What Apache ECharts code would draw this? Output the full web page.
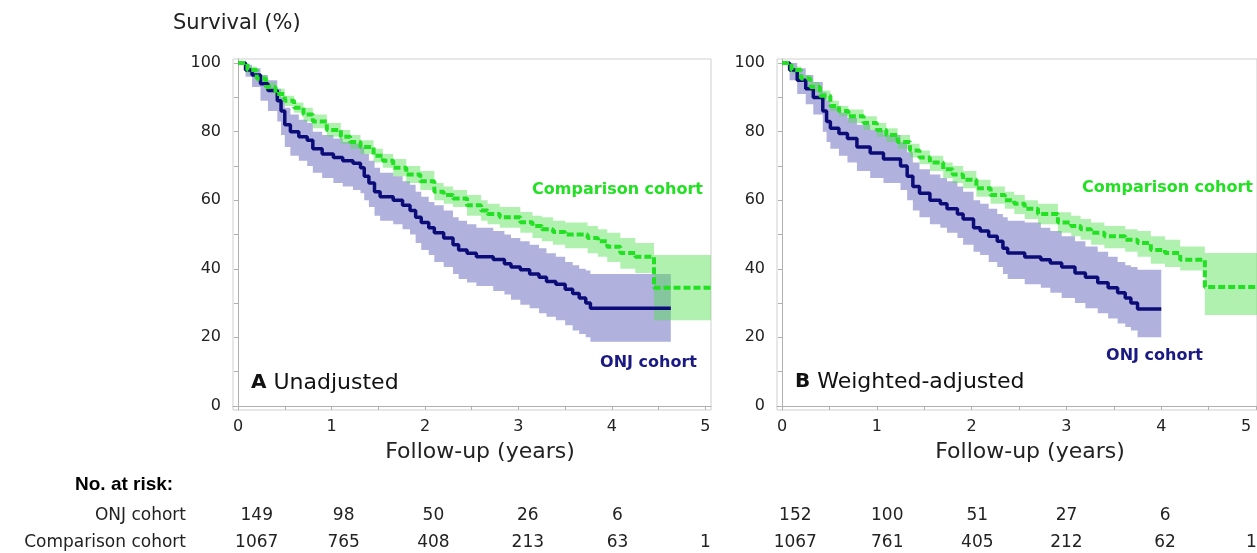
<!DOCTYPE html>
<html>
<head>
<meta charset="utf-8">
<script src="https://cdn.jsdelivr.net/npm/echarts@6/dist/echarts.min.js"></script>
<style>
  html, body { margin: 0; padding: 0; background: #fff; }
  #main { width: 1257px; height: 553px; }
</style>
</head>
<body>
<div id="main"></div>
<script>
// Panel A - unadjusted, ONJ cohort (Kaplan-Meier + 95% CI)
var tA_onj  = [0, 0.08, 0.15, 0.24, 0.32, 0.42, 0.46, 0.5, 0.56, 0.65, 0.74, 0.8, 0.9, 1.02, 1.12, 1.23, 1.31, 1.35, 1.4, 1.46, 1.52, 1.66, 1.76, 1.84, 1.9, 1.96, 2.04, 2.1, 2.2, 2.3, 2.36, 2.45, 2.55, 2.73, 2.85, 2.92, 3.02, 3.12, 3.22, 3.3, 3.4, 3.5, 3.58, 3.65, 3.72, 3.77, 4.63];
var sA_onj  = [100, 98, 96.5, 94, 92, 89, 86, 82, 80, 78.5, 77.5, 75, 73.5, 72.5, 71.5, 70.8, 69.5, 67, 65, 62.5, 61, 60, 58.5, 57, 55, 53.5, 52, 50.5, 49, 47, 45.5, 44.5, 43.5, 42.7, 41.5, 40.5, 39.7, 38.5, 37.5, 36.3, 35.5, 34, 32.8, 31.5, 30, 28.5, 28.5];
var loA_onj = [100, 96, 93, 89, 86, 83, 79, 75.5, 73, 71.5, 70, 68, 66.5, 65, 64, 63, 62, 60, 58, 55.5, 54, 53, 51.5, 50, 47.5, 45.5, 44, 42, 40.5, 38.5, 37, 36, 35, 33.5, 32.5, 31, 29.5, 28.5, 27, 26, 25, 23.5, 22, 21, 20, 18.7, 18.7];
var hiA_onj = [100, 99.5, 98.5, 96.5, 95, 92.5, 90, 87, 85, 83.5, 82.5, 80, 79, 78, 77, 76.5, 75.5, 73.5, 71.5, 69.5, 68, 67, 65.5, 64.5, 62.5, 61, 59.5, 58.5, 57, 55, 54, 53, 52, 51, 50, 49, 48, 47, 46, 44.5, 43.5, 42, 41, 40, 39.5, 38.5, 38.5];

// Panel A - unadjusted, comparison cohort
var tA_cmp  = [0, 0.1, 0.2, 0.3, 0.4, 0.5, 0.6, 0.7, 0.8, 0.95, 1.1, 1.2, 1.31, 1.45, 1.55, 1.66, 1.8, 1.95, 2.1, 2.2, 2.3, 2.45, 2.6, 2.67, 2.8, 3.02, 3.15, 3.25, 3.37, 3.5, 3.74, 3.85, 3.95, 4.09, 4.25, 4.45, 5.06];
var sA_cmp  = [100, 98, 95.5, 93, 91, 89, 87, 85, 83, 80.5, 78.5, 77, 75.5, 73, 71.5, 69.5, 67.5, 65.5, 62.5, 61.5, 60.5, 58.5, 57, 56, 55, 53.6, 52.5, 51.5, 50.7, 50, 49, 48, 46.4, 44.6, 43.5, 34.5, 34.5];
var loA_cmp = [100, 97, 94.5, 91.5, 89.5, 87.5, 85.5, 83, 81, 78.5, 76.5, 75, 73.5, 71, 69.5, 67, 65, 63, 60, 59, 58, 55.5, 54, 53, 52, 50.5, 49, 48, 47, 46, 44.5, 43.5, 42, 40, 38.8, 25, 25];
var hiA_cmp = [100, 99, 96.5, 94.5, 92.5, 90.5, 88.5, 87, 85, 82.5, 80.5, 79, 77.5, 75, 73.5, 72, 70, 68.5, 65, 64, 63, 61.5, 60, 59, 58, 56.6, 55.5, 55, 54, 53.5, 52.5, 51.5, 50.5, 49, 47.5, 44, 44];

// Panel B - weighted-adjusted, ONJ cohort
var tB_onj  = [0, 0.08, 0.16, 0.25, 0.33, 0.43, 0.47, 0.51, 0.6, 0.69, 0.79, 0.93, 1.07, 1.25, 1.32, 1.38, 1.45, 1.56, 1.67, 1.74, 1.85, 1.91, 2.02, 2.09, 2.18, 2.27, 2.33, 2.38, 2.56, 2.73, 2.83, 2.95, 3.09, 3.2, 3.33, 3.44, 3.54, 3.62, 3.68, 3.75, 4.0];
var sB_onj  = [100, 98, 95, 92.5, 90, 86, 83, 81, 79.5, 78, 75.5, 73.8, 72, 70, 67, 64, 62, 60, 59, 57.5, 56, 54.5, 52, 51, 49.5, 48, 46, 44.6, 43.4, 42.6, 41.7, 40.5, 38.8, 37.5, 35.9, 34.5, 33, 31.5, 30, 28.3, 28.3];
var loB_onj = [100, 95, 91, 88, 85, 80, 77, 75, 73, 71, 68.5, 66.5, 65, 63, 60, 57, 55, 53, 52, 50.5, 49, 47, 45, 44, 42, 40.5, 38.5, 37, 35.5, 34.5, 33, 31.5, 30, 28.5, 27, 25.5, 24, 23, 22, 20, 20];
var hiB_onj = [100, 100, 98.5, 96.5, 94.5, 91.5, 89, 87, 85.5, 84, 82, 80.5, 79, 77, 74, 71, 69, 67.5, 66.5, 65.5, 64, 62.5, 60, 59, 57.5, 56, 55, 54, 53.5, 52, 51, 49.5, 48, 46.5, 45, 43.5, 42, 41, 40.5, 39.7, 39.7];

// Panel B - weighted-adjusted, comparison cohort
var tB_cmp  = [0, 0.1, 0.2, 0.3, 0.4, 0.51, 0.6, 0.7, 0.86, 1.0, 1.1, 1.22, 1.35, 1.45, 1.56, 1.7, 1.8, 1.91, 2.05, 2.2, 2.35, 2.45, 2.56, 2.7, 2.91, 3.05, 3.15, 3.26, 3.4, 3.62, 3.75, 3.89, 4.04, 4.2, 4.46, 5.06];
var sB_cmp  = [100, 98, 95.5, 93, 90.5, 87.5, 86, 84.5, 82.5, 80.5, 79, 77, 74.5, 72.5, 71, 69, 67.5, 66, 63.5, 61.5, 60, 59, 57.5, 56, 53.5, 52.5, 51.5, 50.5, 49.5, 48.5, 47.5, 45.5, 44.6, 42.6, 34.7, 34.7];
var loB_cmp = [100, 97, 94.5, 91.5, 89, 86, 84.5, 82.5, 80.5, 78.5, 77, 75, 72.5, 70.5, 68.5, 66.5, 65, 63.5, 61, 59, 57.5, 56, 54.5, 53, 50.5, 49.5, 48.5, 47, 46, 45, 43.5, 41.5, 40.5, 39.5, 26.5, 26.5];
var hiB_cmp = [100, 99, 96.5, 94.5, 92, 89, 87.5, 86.5, 84.5, 82.5, 81, 79, 76.5, 74.5, 73, 71, 70, 68.5, 66, 64, 62.5, 61.5, 60, 59, 56.5, 55.5, 54.5, 53.5, 52.5, 51.5, 51, 49.5, 48.5, 46.5, 44.6, 44.6];

// Number at risk table
var riskRows  = ['ONJ cohort', 'Comparison cohort'];
var riskA_onj = ['149', '98', '50', '26', '6', ''];
var riskA_cmp = ['1067', '765', '408', '213', '63', '1'];
var riskB_onj = ['152', '100', '51', '27', '6', ''];
var riskB_cmp = ['1067', '761', '405', '212', '62', '1'];
var riskColsA = [0.2, 1.13, 2.09, 3.1, 4.06, 5.0];
var riskColsB = [0.14, 1.11, 2.06, 3.0, 4.04, 4.95];

var yTicks  = [0, 10, 20, 30, 40, 50, 60, 70, 80, 90, 100];
var yLabels = [0, 20, 40, 60, 80, 100];
var xTicks  = [0, 0.5, 1, 1.5, 2, 2.5, 3, 3.5, 4, 4.5, 5];
var xLabels = [0, 1, 2, 3, 4, 5];

var NAVY = '#0c0c78';
var GREEN = '#22e022';
var FONT = 'DejaVu Sans';

function zip(t, v) {
	return t.map(function (x, i) { return [x, v[i]]; });
}

// CI band drawn as one step-shaped polygon through the axis scales
function band(idx, t, lo, hi, fill) {
	return {
		type: 'custom', xAxisIndex: idx, yAxisIndex: idx, silent: true, z: 1,
		data: [[t[0], lo[0]]],
		renderItem: function (params, api) {
			var top = [], bot = [];
			for (var i = 0; i < t.length; i++) {
				if (i > 0) {
					top.push(api.coord([t[i], hi[i - 1]]));
					bot.push(api.coord([t[i], lo[i - 1]]));
				}
				top.push(api.coord([t[i], hi[i]]));
				bot.push(api.coord([t[i], lo[i]]));
			}
			var pts = top.concat(bot.reverse());
			var cs = params.coordSys;
			pts = echarts.graphic.clipPointsByRect(pts, { x: cs.x, y: cs.y, width: cs.width, height: cs.height });
			return { type: 'polygon', shape: { points: pts }, style: { fill: fill } };
		}
	};
}
function curve(idx, t, s, color, width, dash) {
	return {
		type: 'line', step: 'end', symbol: 'none', silent: true, z: 3,
		xAxisIndex: idx, yAxisIndex: idx, data: zip(t, s),
		lineStyle: { color: color, width: width, type: dash || 'solid' }
	};
}

function xAxis(idx, min, max) {
	return {
		type: 'value', gridIndex: idx, min: min, max: max,
		axisLine: { show: true, lineStyle: { color: '#b0b0b0' } },
		axisTick: { show: true, length: 4, customValues: xTicks, lineStyle: { color: '#b0b0b0' } },
		axisLabel: {
			customValues: xLabels, margin: 9, color: '#222', fontFamily: FONT, fontSize: 16,
			formatter: function (v) { return (idx == 1 && v == 5) ? '{r|5}' : String(v); },
			rich: { r: { fontFamily: FONT, fontSize: 16, color: '#222', padding: [0, 20, 0, 0] } }
		},
		splitLine: { show: false }
	};
}
function yAxis(idx) {
	return {
		type: 'value', gridIndex: idx, min: -1.2, max: 101.2,
		axisLine: { show: true, lineStyle: { color: '#b0b0b0' } },
		axisTick: { show: true, length: 4, customValues: yTicks, lineStyle: { color: '#b0b0b0' } },
		axisLabel: { customValues: yLabels, margin: 12, color: '#222', fontFamily: FONT, fontSize: 16 },
		splitLine: { show: false }
	};
}

var chart = echarts.init(document.getElementById('main'), null, { renderer: 'canvas' });

var series = [
	band(0, tA_onj, loA_onj, hiA_onj, 'rgba(100,100,190,0.5)'),
	band(0, tA_cmp, loA_cmp, hiA_cmp, 'rgba(80,225,80,0.45)'),
	band(1, tB_onj, loB_onj, hiB_onj, 'rgba(100,100,190,0.5)'),
	band(1, tB_cmp, loB_cmp, hiB_cmp, 'rgba(80,225,80,0.45)'),
	curve(0, tA_onj, sA_onj, NAVY, 3.5),
	curve(0, tA_cmp, sA_cmp, GREEN, 4, [7, 3]),
	curve(1, tB_onj, sB_onj, NAVY, 3.5),
	curve(1, tB_cmp, sB_cmp, GREEN, 4, [7, 3])
];

var option = {
	backgroundColor: '#fff',
	animation: false,
	grid: [
		{ left: 233, top: 59, width: 478, height: 351, show: true, borderColor: '#cfcfcf', borderWidth: 1 },
		{ left: 777, top: 59, width: 480, height: 351, show: true, borderColor: '#cfcfcf', borderWidth: 1 }
	],
	xAxis: [xAxis(0, -0.054, 5.06), xAxis(1, -0.053, 5.01)],
	yAxis: [yAxis(0), yAxis(1)],
	series: series
};
chart.setOption(option);

// texts: titles, panel labels, curve names, risk table
function txt(x, y, s, o) {
	o = o || {};
	return {
		type: 'text', x: x, y: y, silent: true, z: 100,
		style: Object.assign({
			text: s, fontFamily: FONT, fontSize: 17, fill: '#222',
			align: 'left', verticalAlign: 'middle'
		}, o)
	};
}

var g = [
	txt(173, 24, 'Survival (%)', { fontSize: 21 }),
	txt(480, 452, 'Follow-up (years)', { fontSize: 22, align: 'center' }),
	txt(1030, 452, 'Follow-up (years)', { fontSize: 22, align: 'center' }),
	txt(703, 190, 'Comparison cohort', { align: 'right', fill: GREEN, fontWeight: 'bold', fontSize: 16 }),
	txt(1253, 188, 'Comparison cohort', { align: 'right', fill: GREEN, fontWeight: 'bold', fontSize: 16 }),
	txt(697, 363, 'ONJ cohort', { align: 'right', fill: '#1a1a82', fontWeight: 'bold', fontSize: 16 }),
	txt(1203, 356, 'ONJ cohort', { align: 'right', fill: '#1a1a82', fontWeight: 'bold', fontSize: 16 }),
	txt(251, 383, '{b|A} Unadjusted', {
		fontSize: 22, fill: '#111',
		rich: { b: { fontFamily: FONT, fontSize: 20, fontWeight: 'bold', fill: '#111' } }
	}),
	txt(795, 382, '{b|B} Weighted-adjusted', {
		fontSize: 22, fill: '#111',
		rich: { b: { fontFamily: FONT, fontSize: 20, fontWeight: 'bold', fill: '#111' } }
	}),
	txt(75, 485, 'No. at risk:', { fontFamily: 'Liberation Sans', fontWeight: 'bold', fontSize: 19, fill: '#000' }),
	txt(186, 516, riskRows[0], { align: 'right' }),
	txt(186, 543, riskRows[1], { align: 'right' })
];

function riskRow(gi, cols, vals, y) {
	cols.forEach(function (c, i) {
		if (!vals[i]) return;
		var px = chart.convertToPixel({ gridIndex: gi }, [c, 0])[0];
		g.push(txt(px, y, vals[i], { align: 'center' }));
	});
}
riskRow(0, riskColsA, riskA_onj, 516);
riskRow(0, riskColsA, riskA_cmp, 543);
riskRow(1, riskColsB, riskB_onj, 516);
riskRow(1, riskColsB, riskB_cmp, 543);

chart.setOption({ graphic: { elements: g } });
</script>
</body>
</html>
